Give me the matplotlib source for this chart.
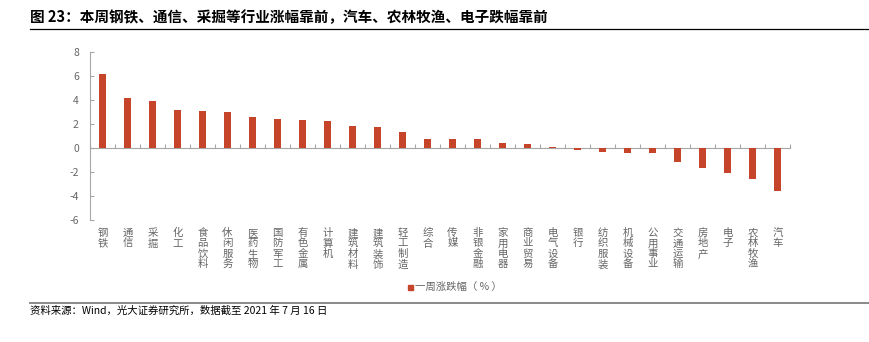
import matplotlib
matplotlib.use("Agg")
import matplotlib.pyplot as plt
from matplotlib.transforms import blended_transform_factory, offset_copy
from matplotlib.lines import Line2D
from matplotlib.patches import Rectangle

plt.rcParams['font.family'] = ['Noto Sans CJK SC', 'DejaVu Sans']

categories = ["钢铁", "通信", "采掘", "化工", "食品饮料", "休闲服务", "医药生物", "国防军工",
              "有色金属", "计算机", "建筑材料", "建筑装饰", "轻工制造", "综合", "传媒", "非银金融",
              "家用电器", "商业贸易", "电气设备", "银行", "纺织服装", "机械设备", "公用事业",
              "交通运输", "房地产", "电子", "农林牧渔", "汽车"]
values = [6.2, 4.2, 3.9, 3.2, 3.05, 3.0, 2.6, 2.4, 2.3, 2.25, 1.85, 1.72, 1.37, 0.78, 0.75,
          0.72, 0.44, 0.36, 0.05, -0.2, -0.3, -0.38, -0.45, -1.2, -1.67, -2.08, -2.58, -3.6]
yticks = [-6, -4, -2, 0, 2, 4, 6, 8]
series_name = "一周涨跌幅（ % ）"
title = "图 23：本周钢铁、通信、采掘等行业涨幅靠前，汽车、农林牧渔、电子跌幅靠前"
source = "资料来源：Wind，光大证券研究所，数据截至 2021 年 7 月 16 日"

W, H = 870, 342
fig = plt.figure(figsize=(W / 100, H / 100), dpi=100)
ax = fig.add_axes([90 / W, 1 - 220 / H, 700 / W, 168 / H])

bar_color = "#C5442A"
gray = "#A6A6A6"
tick_text = "#666666"

x = list(range(len(categories)))
ax.bar(x, values, width=0.31, color=bar_color, zorder=3)
ax.set_xlim(-0.5, len(categories) - 0.5)
ax.set_ylim(-6, 8)
ax.set_yticks(yticks)
ax.set_yticklabels([str(v) for v in yticks], fontsize=7.5, color=tick_text)
ax.tick_params(axis='y', direction='in', length=3, color=gray, pad=8)

for s in ['top', 'right']:
    ax.spines[s].set_visible(False)
ax.spines['left'].set_color(gray)
ax.spines['bottom'].set_color(gray)
ax.spines['bottom'].set_position(('data', 0))

ax.set_xticks([i + 0.5 for i in range(-1, len(categories))])
ax.set_xticklabels([])
ax.tick_params(axis='x', direction='in', length=3, color=gray)

trans = blended_transform_factory(ax.transData, ax.transAxes)
trans = offset_copy(trans, fig=fig, x=0, y=-8, units='dots')
for i, c in enumerate(categories):
    ax.text(i, 0, "\n".join(c), transform=trans, ha='center', va='top',
            fontsize=7.5, color=tick_text, linespacing=1.05)

# Title and rule
fig.text(30 / W, 1 - 17 / H, title, fontsize=10.5, fontweight='bold', ha='left', va='center', color='black')
fig.add_artist(Line2D([30 / W, 1], [1 - 28.5 / H] * 2, color='black', lw=0.9))

# Legend
fig.add_artist(Rectangle((408 / W, 1 - 290 / H), 5 / W, 5 / H, color=bar_color))
fig.text(415 / W, 1 - 287 / H, series_name, fontsize=7.5, color=tick_text, ha='left', va='center')

# Footer rule and source
fig.add_artist(Line2D([30 / W, 1], [1 - 302.5 / H] * 2, color='#808080', lw=1.3))
fig.text(30 / W, 1 - 311 / H, source, fontsize=7.5, color='black', ha='left', va='center')

fig.savefig("out.png", dpi=100)
